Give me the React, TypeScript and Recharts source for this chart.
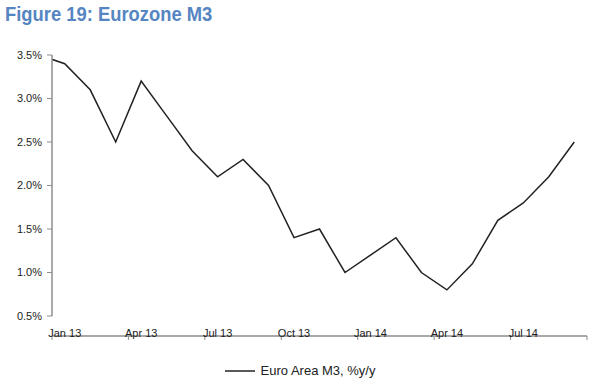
import React from 'react';
import { LineChart, Line, XAxis, YAxis } from 'recharts';

// Month labels (index 0 = Dec 12, partially outside the plot and clipped)
const months = [
  'Dec 12',
  'Jan 13', 'Feb 13', 'Mar 13', 'Apr 13', 'May 13', 'Jun 13', 'Jul 13', 'Aug 13', 'Sep 13', 'Oct 13', 'Nov 13', 'Dec 13',
  'Jan 14', 'Feb 14', 'Mar 14', 'Apr 14', 'May 14', 'Jun 14', 'Jul 14', 'Aug 14', 'Sep 14',
];
// Euro Area M3, % y/y
const m3Values = [
  3.5,
  3.4, 3.1, 2.5, 3.2, 2.8, 2.4, 2.1, 2.3, 2.0, 1.4, 1.5, 1.0,
  1.2, 1.4, 1.0, 0.8, 1.1, 1.6, 1.8, 2.1, 2.5,
];
const yTicks = [0.5, 1.0, 1.5, 2.0, 2.5, 3.0, 3.5];
// tick marks sit between months; labels sit on the months
const xTickMarks = [-0.5, 2.5, 5.5, 8.5, 11.5, 14.5, 17.5, 20.5];
const xLabelPositions = [0, 3, 6, 9, 12, 15, 18];
const seriesName = 'Euro Area M3, %y/y';

const data = months.map((m, i) => ({ t: i - 1, label: m, v: m3Values[i] }));

const AXIS = '#8c8c8c';
const TEXT = '#222';
const FONT = '"Liberation Sans", Arial, sans-serif';

const MonthTick = (props: any) => {
  const { x, y, payload } = props;
  return (
    <g transform={`translate(${x},${y})`}>
      <text x={0} y={7} dy="0.71em" textAnchor="middle" fill={TEXT} fontSize={11} fontFamily={FONT}>
        {months[payload.value + 1]}
      </text>
    </g>
  );
};

export default function App() {
  return (
    <div style={{ position: 'absolute', left: 0, top: 0, width: 600, height: 388, background: '#fff', overflow: 'hidden' }}>
      <div
        style={{
          position: 'absolute',
          left: 5,
          top: 2,
          fontFamily: FONT,
          fontWeight: 'bold',
          fontSize: 21,
          color: '#5585c2',
          whiteSpace: 'nowrap',
          transform: 'scaleX(0.875)',
          transformOrigin: 'left top',
        }}
      >
        Figure 19: Eurozone M3
      </div>
      <LineChart
        width={600}
        height={388}
        data={data}
        margin={{ top: 55, right: 13, bottom: 48, left: 0 }}
        style={{ fontFamily: FONT }}
      >
        <XAxis
          xAxisId="marks"
          dataKey="t"
          type="number"
          domain={[-0.5, 20.5]}
          allowDataOverflow
          ticks={xTickMarks}
          interval={0}
          tickFormatter={() => ''}
          tickSize={4}
          height={4}
          axisLine={{ stroke: AXIS, strokeWidth: 1.5 }}
          tickLine={{ stroke: AXIS, strokeWidth: 1 }}
        />
        <XAxis
          xAxisId="labels"
          dataKey="t"
          type="number"
          domain={[-0.5, 20.5]}
          allowDataOverflow
          ticks={xLabelPositions}
          interval={0}
          axisLine={false}
          tickLine={false}
          tickSize={4}
          tickMargin={2}
          height={20}
          tick={<MonthTick />}
        />
        <YAxis
          domain={[0.5, 3.5]}
          ticks={yTicks}
          interval={0}
          width={52}
          tickFormatter={(v: number) => v.toFixed(1) + '%'}
          tickSize={5}
          tickMargin={5}
          axisLine={{ stroke: AXIS, strokeWidth: 1.5 }}
          tickLine={{ stroke: AXIS, strokeWidth: 1 }}
          tick={{ fill: TEXT, fontSize: 11 }}
        />
        <Line
          xAxisId="marks"
          dataKey="v"
          name={seriesName}
          type="linear"
          stroke="#222"
          strokeWidth={1.5}
          dot={false}
          activeDot={false}
          isAnimationActive={false}
        />
        <Line
          xAxisId="labels"
          dataKey="v"
          stroke="none"
          dot={false}
          activeDot={false}
          legendType="none"
          isAnimationActive={false}
        />
      </LineChart>
      <div
        style={{
          position: 'absolute',
          left: 0,
          top: 363,
          width: 600,
          display: 'flex',
          alignItems: 'center',
          justifyContent: 'center',
          fontFamily: FONT,
          fontSize: 13,
          color: TEXT,
        }}
      >
        <svg width={30} height={10} style={{ marginRight: 6 }}>
          <line x1={0} y1={5} x2={30} y2={5} stroke="#222" strokeWidth={1.5} />
        </svg>
        <span>{seriesName}</span>
      </div>
    </div>
  );
}
